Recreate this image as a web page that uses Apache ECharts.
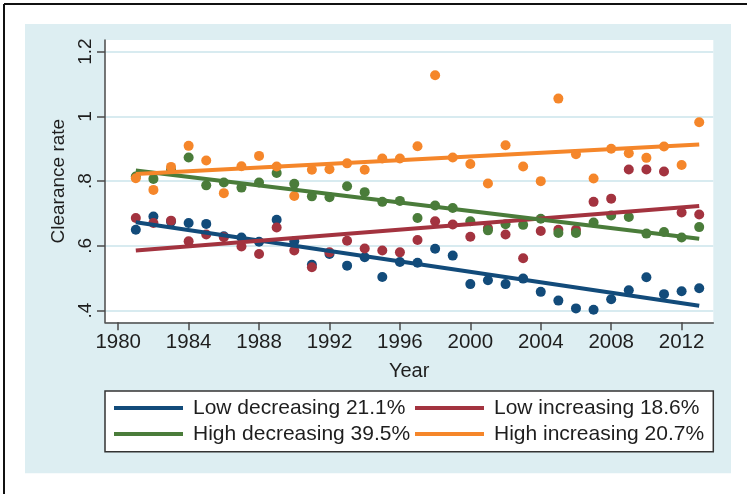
<!DOCTYPE html>
<html><head><meta charset="utf-8">
<script src="https://cdn.jsdelivr.net/npm/echarts@6/dist/echarts.min.js"></script>
<style>html,body{margin:0;padding:0;background:#fff}#c{width:747px;height:494px}</style>
</head><body><div id="c"></div>
<script>
// ---- data ----
const years = [1981,1982,1983,1984,1985,1986,1987,1988,1989,1990,1991,1992,1993,1994,1995,1996,1997,1998,1999,2000,2001,2002,2003,2004,2005,2006,2007,2008,2009,2010,2011,2012,2013];
const lowDecreasing = [0.650,0.691,0.675,0.671,0.668,0.630,0.626,0.613,0.681,0.614,0.542,0.575,0.539,0.565,0.504,0.550,0.548,0.591,0.570,0.482,0.494,0.482,0.499,0.458,0.431,0.407,0.403,0.435,0.463,0.503,0.451,0.460,0.469];
const lowIncreasing = [0.686,0.671,0.678,0.614,0.635,0.627,0.598,0.575,0.657,0.586,0.534,0.580,0.616,0.592,0.586,0.580,0.618,0.676,0.666,0.628,0.655,0.635,0.562,0.646,0.650,0.650,0.736,0.746,0.836,0.836,0.830,0.703,0.697];
const highDecreasing = [0.814,0.807,0.835,0.873,0.787,0.796,0.780,0.796,0.825,0.792,0.753,0.750,0.784,0.766,0.736,0.739,0.686,0.725,0.717,0.676,0.648,0.667,0.665,0.684,0.640,0.640,0.672,0.694,0.689,0.638,0.643,0.626,0.658];
const highIncreasing = [0.809,0.773,0.844,0.909,0.864,0.763,0.846,0.878,0.845,0.754,0.835,0.837,0.855,0.835,0.870,0.870,0.908,1.127,0.873,0.853,0.793,0.911,0.845,0.800,1.055,0.883,0.808,0.900,0.886,0.872,0.907,0.850,0.982];
// fitted trend lines: value at first and last year
const fitYears = [1981, 2013];
const fitLowDecreasing = [0.673, 0.415];
const fitLowIncreasing = [0.586, 0.723];
const fitHighDecreasing = [0.833, 0.622];
const fitHighIncreasing = [0.822, 0.913];
const seriesNames = ['Low decreasing 21.1%','Low increasing 18.6%','High decreasing 39.5%','High increasing 20.7%'];
const xTicks = [1980,1984,1988,1992,1996,2000,2004,2008,2012];
const yTicks = [0.4,0.6,0.8,1.0,1.2];
const yTickLabels = ['.4','.6','.8','1','1.2'];

// ---- styling ----
const colors = ['#124b7a','#a3333f','#4a7c3a','#f5862a'];
const txt = '#1e1e1e';
const axisCol = '#4a4a4a';
const gridCol = '#d8ebf0';
const panelCol = '#ddeef2';
const font = '"Liberation Sans", Arial, Helvetica, sans-serif';

const pts = arr => years.map((y,i)=>[y,arr[i]]);
const fit = arr => fitYears.map((y,i)=>[y,arr[i]]);
const scatterData = [lowDecreasing, lowIncreasing, highDecreasing, highIncreasing];
const fitData = [fitLowDecreasing, fitLowIncreasing, fitHighDecreasing, fitHighIncreasing];

const series = [];
scatterData.forEach((d,i)=>series.push({
  type:'scatter', name:'pts'+i, data:pts(d), symbol:'circle', symbolSize:10,
  itemStyle:{color:colors[i], opacity:1}, silent:true, z:3
}));
fitData.forEach((d,i)=>series.push({
  type:'line', name:seriesNames[i], data:fit(d), showSymbol:false, symbol:'none',
  lineStyle:{color:colors[i], width:4}, itemStyle:{color:colors[i]}, silent:true, z:4
}));

const legPos = [[114,396],[415,396],[114,422],[415,422]];
const legends = seriesNames.map((n,i)=>({
  data:[n], left:legPos[i][0], top:legPos[i][1], padding:0, orient:'horizontal',
  icon:'rect', itemWidth:69, itemHeight:4, selectedMode:false,
  textStyle:{fontSize:21, fontFamily:font, color:txt, padding:[0,0,0,5], lineHeight:24}
}));

const chart = echarts.init(document.getElementById('c'), null, {renderer:'canvas'});
chart.setOption({
  animation:false,
  backgroundColor:'#fff',
  graphic:[
    {type:'rect', z:-5, shape:{x:25,y:24,width:706,height:449.3}, style:{fill:panelCol}},
    {type:'line', z:1, shape:{x1:4,y1:4,x2:747,y2:4}, style:{stroke:'#111',lineWidth:2}},
    {type:'line', z:1, shape:{x1:4,y1:4,x2:4,y2:494}, style:{stroke:'#111',lineWidth:2}},
    {type:'rect', z:1, shape:{x:105,y:391,width:608.3,height:60.7}, style:{fill:'#fff',stroke:'#333',lineWidth:1.5}}
  ],
  legend:legends,
  grid:{left:105, top:40, width:608.3, height:282.3, show:true, backgroundColor:'#fff', borderWidth:0},
  xAxis:{
    type:'value', min:1979.25, max:2013.8,
    name:'Year', nameLocation:'middle', nameGap:39,
    nameTextStyle:{fontSize:20, fontFamily:font, color:txt},
    axisLine:{show:true, lineStyle:{color:axisCol, width:1.5}},
    axisTick:{show:true, length:8, lineStyle:{color:axisCol, width:1.5}, customValues:xTicks},
    axisLabel:{fontSize:20.5, fontFamily:font, color:txt, margin:10, customValues:xTicks, formatter:v=>String(Math.round(v))},
    splitLine:{show:false}
  },
  yAxis:{
    type:'value', min:0.364, max:1.236,
    name:'Clearance rate', nameLocation:'middle', nameGap:37,
    nameTextStyle:{fontSize:19, fontFamily:font, color:txt},
    axisLine:{show:true, lineStyle:{color:axisCol, width:1.5}},
    axisTick:{show:true, length:8, lineStyle:{color:axisCol, width:1.5}, customValues:yTicks},
    axisLabel:{fontSize:19, fontFamily:font, color:txt, margin:10, rotate:90, customValues:yTicks,
      formatter:v=>{const k=yTicks.findIndex(t=>Math.abs(t-v)<1e-6);return k>=0?yTickLabels[k]:'';}},
    splitLine:{show:true, lineStyle:{color:gridCol, width:2}}
  },
  series:series
});
</script></body></html>
